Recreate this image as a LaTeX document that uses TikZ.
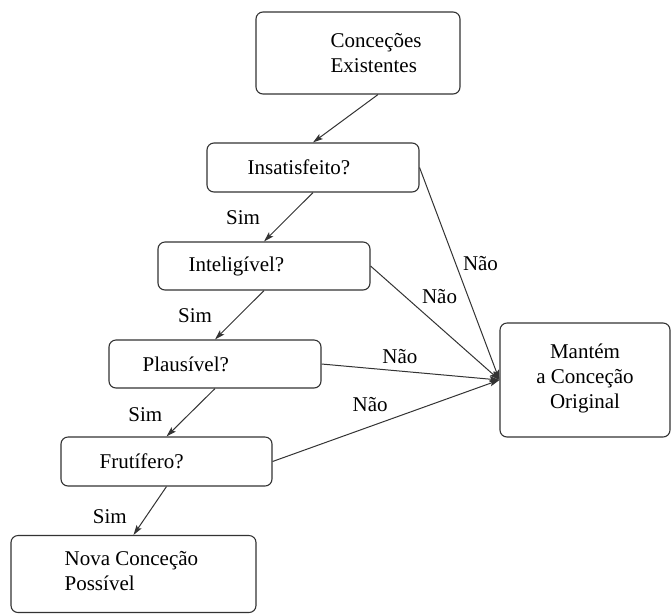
\documentclass[tikz,border=0pt]{standalone}
\usepackage{fontspec}
\setmainfont{Liberation Serif}
\usetikzlibrary{arrows.meta, positioning}

\begin{document}
\begin{tikzpicture}[x = 1pt, y = -1pt,
    box/.style = {draw = black!80, line width = 1.1pt, rounded corners = 7pt},
    txt/.style = {inner sep = 0pt, align = left, font = \rmfamily\fontsize{21}{25}\selectfont},
    lbl/.style = {inner sep = 0pt, font = \rmfamily\fontsize{21}{25}\selectfont},
    flow/.style = {-{Stealth[length = 10pt, width = 6pt, inset = 2pt]},
                   every edge/.append style = {draw = black!80, line width = 1pt}}]
      \useasboundingbox (0,0) rectangle (671,614);

      % boxes
      \node[box, minimum width = 204pt, minimum height = 82pt]  (ce)   at (358,53)    {};
      \node[box, minimum width = 212pt, minimum height = 49pt]  (ins)  at (313,167.5) {};
      \node[box, minimum width = 212pt, minimum height = 48pt]  (int)  at (264,266)   {};
      \node[box, minimum width = 212pt, minimum height = 48pt]  (pla)  at (215,364)   {};
      \node[box, minimum width = 211pt, minimum height = 49pt]  (fru)  at (166.5,461.5) {};
      \node[box, minimum width = 245pt, minimum height = 77pt]  (nova) at (133.5,574) {};
      \node[box, minimum width = 170pt, minimum height = 114pt] (man)  at (585,380)   {};

      % texts
      \node[txt, anchor = west, right = 75pt of ce.west]   (ce-t)   {Conceções\\Existentes};
      \node[txt, anchor = west, right = 41pt of ins.west]  (ins-t)  {Insatisfeito?};
      \node[txt, anchor = west, right = 31pt of int.west]  (int-t)  {Inteligível?};
      \node[txt, anchor = west, right = 34pt of pla.west]  (pla-t)  {Plausível?};
      \node[txt, anchor = west, right = 39pt of fru.west]  (fru-t)  {Frutífero?};
      \node[txt, anchor = west, right = 54pt of nova.west, yshift = 3pt] (nova-t) {Nova Conceção\\Possível};
      \node[txt, align = center, yshift = 2pt] (man-t) at (man) {Mantém\\a Conceção\\Original};

      % yes branch
      \path[flow] ([xshift = 20pt]ce.south) edge (ins.north)
                  (ins.south) edge node[lbl, pos = 0.52, left = 27pt]   {Sim} (int.north)
                  (int.south) edge node[lbl, pos = 0.52, left = 26pt]   {Sim} (pla.north)
                  (pla.south) edge node[lbl, pos = 0.55, left = 25.5pt] {Sim} (fru.north)
                  (fru.south) edge node[lbl, pos = 0.63, left = 18.5pt] {Sim} (nova.north);
      % no branch
      \path[flow] (ins.east) edge node[lbl, pos = 0.45, right = 7pt] {Não} (man.west)
                  (int.east) edge node[lbl, pos = 0.38, anchor = south west, xshift = 2pt, yshift = 5pt] {Não} (man.west)
                  (pla.east) edge node[lbl, pos = 0.44, above = 7pt] {Não} (man.west)
                  (fru.east) edge node[lbl, pos = 0.43, above = 14pt] {Não} (man.west);
    \end{tikzpicture}
\end{document}
